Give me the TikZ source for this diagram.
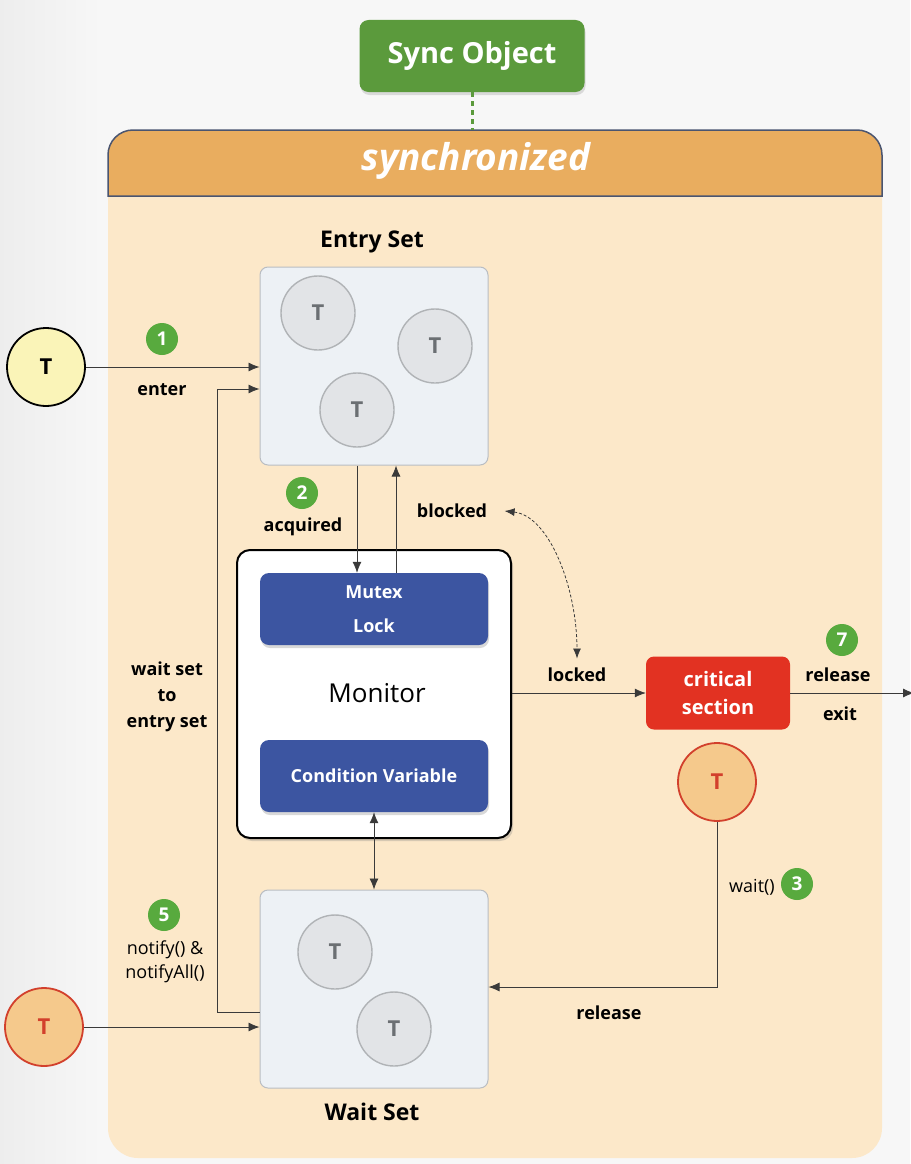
\documentclass[tikz,border=0pt]{standalone}
\usepackage{fontspec}
\setmainfont{Open Sans}
\usetikzlibrary{arrows.meta,positioning,shadows}

\definecolor{syncgreen}{HTML}{5B9A3C}
\definecolor{hdrorange}{HTML}{E9AD5F}
\definecolor{framedark}{HTML}{4A5570}
\definecolor{bodypeach}{HTML}{FCE8C9}
\definecolor{setfill}{HTML}{EDF1F5}
\definecolor{setborder}{HTML}{B9BDC2}
\definecolor{tfill}{HTML}{E2E4E7}
\definecolor{tborder}{HTML}{B0B3B6}
\definecolor{ttext}{HTML}{6B6F73}
\definecolor{tyellow}{HTML}{FAF4B8}
\definecolor{torange}{HTML}{F5C98C}
\definecolor{tred}{HTML}{D2402C}
\definecolor{lockblue}{HTML}{3C55A1}
\definecolor{critred}{HTML}{E23222}
\definecolor{badgegreen}{HTML}{58AA3E}
\definecolor{linegray}{HTML}{3A3A3A}

\tikzset{
  thread/.style={circle, draw=tborder, line width=1.4pt, fill=tfill, minimum size=74pt,
    inner sep=0pt, text=ttext, font=\bfseries\fontsize{22}{22}\selectfont},
  outthread/.style={thread, draw=black, line width=1.8pt, fill=tyellow, text=black, minimum size=78pt},
  redthread/.style={thread, draw=tred, line width=1.8pt, fill=torange, text=tred, minimum size=78pt},
  setbox/.style={draw=setborder, line width=1pt, fill=setfill, rounded corners=8pt,
    minimum width=228pt, minimum height=198pt},
  bluebox/.style={fill=lockblue, rounded corners=9pt, minimum width=228pt, minimum height=72pt,
    text=white, align=center, font=\bfseries\fontsize{18}{34}\selectfont,
    drop shadow={opacity=0.3, shadow xshift=1pt, shadow yshift=-3pt}},
  badge/.style={circle, fill=badgegreen, text=white, minimum size=32pt, inner sep=0pt,
    font=\bfseries\fontsize{19}{19}\selectfont},
  lbl/.style={text=black, align=center, font=\bfseries\fontsize{18}{26}\selectfont},
  title/.style={text=black, font=\bfseries\fontsize{23}{23}\selectfont},
  conn/.style={draw=linegray, line width=0.8pt, -{Latex[length=11pt,width=9pt]}},
}

\begin{document}
\begin{tikzpicture}[x=1pt, y=-1pt]
  \useasboundingbox (0,0) rectangle (910,1164);
  % background
  \fill[white!97!black] (0,0) rectangle (910,1164);
  \shade[left color=white!93!black, right color=white!97!black] (0,0) rectangle (105,1164);

  % synchronized frame
  \fill[bodypeach, rounded corners=30pt] (108,150) rectangle (882,1158);
  \path[fill=hdrorange, draw=framedark, line width=1.5pt] (108,196) -- (108,155)
    arc[start angle=180, end angle=270, radius=25] -- (857,130)
    arc[start angle=270, end angle=360, radius=25] -- (882,196) -- cycle;
  \node[text=white, font=\bfseries\itshape\fontsize{37}{37}\selectfont] (syncd) at (476,161) {synchronized};

  \node[fill=syncgreen, rounded corners=9pt, minimum width=225pt, minimum height=72pt,
    text=white, font=\bfseries\fontsize{29}{29}\selectfont,
    drop shadow={opacity=0.25, shadow xshift=1pt, shadow yshift=-3pt}] (sync) at (472,56) {Sync Object};
  \draw[syncgreen, line width=3pt, dash pattern=on 5pt off 4pt] (sync.south) -- (sync.south |- 0,130);

  % entry set
  \node[title] (entrylbl) at (372,242) {Entry Set};
  \node[setbox] (entryset) at (374,366) {};
  \node[thread] (te1) at (318,313) {T};
  \node[thread] (te2) at (435,346) {T};
  \node[thread] (te3) at (357,410) {T};

  % monitor
  \node[draw=black, line width=2pt, fill=white, rounded corners=13pt, minimum width=274pt,
    minimum height=288pt, drop shadow={opacity=0.3, shadow xshift=2pt, shadow yshift=-3pt}] (monitor) at (374,694) {};
  \node[bluebox] (mutex) at (374,609) {Mutex\\Lock};
  \node[font=\fontsize{26}{26}\selectfont] (monlbl) at (377,693) {Monitor};
  \node[bluebox] (condvar) at (374,776) {Condition Variable};

  % wait set
  \node[setbox] (waitset) at (374,989) {};
  \node[thread] (tw1) at (335,952) {T};
  \node[thread] (tw2) at (394,1029) {T};
  \node[title] (waitlbl) at (372,1112) {Wait Set};

  % critical section
  \node[fill=critred, rounded corners=8pt, minimum width=144pt, minimum height=73pt, text=white,
    align=center, font=\bfseries\fontsize{20}{28}\selectfont] (crit) at (718,693) {critical\\section};

  % outside threads
  \node[outthread] (tnew) at (46,367) {T};
  \node[redthread] (tout) at (44,1027) {T};
  \node[redthread] (trun) at (717,782) {T};

  % labels
  \node[badge] (b1) at (162,339) {1};
  \node[lbl] (enterlbl) at (162,390) {enter};
  \node[badge] (b2) at (302,493) {2};
  \node[lbl] (acqlbl) at (303,527) {acquired};
  \node[lbl] (blocklbl) at (452,511) {blocked};
  \node[lbl] (locklbl) at (577,675) {locked};
  \node[badge] (b7) at (842,640) {7};
  \node[lbl] (rellbl) at (838,675) {release};
  \node[lbl] (exitlbl) at (840,714) {exit};
  \node[lbl, font=\fontsize{18}{26}\selectfont] (waitlbl2) at (752,887) {wait()};
  \node[badge] (b3) at (797,884) {3};
  \node[lbl] (rel2lbl) at (609,1013) {release};
  \node[lbl] (wtoe) at (167,697) {wait set\\to\\entry set};
  \node[badge] (b5) at (164,915) {5};
  \node[lbl, font=\fontsize{18}{24}\selectfont] (notilbl) at (165,962) {notify() \&\\notifyAll()};

  % connectors
  \draw[conn] (tnew) -- (tnew -| entryset.west);
  \draw[conn] ([yshift=-23pt]waitset.west) -- ++(-42,0) |- ([yshift=-23pt]entryset.west);
  \draw[conn] ([xshift=-17pt]entryset.south) -- ([xshift=-17pt]mutex.north);
  \draw[conn] ([xshift=22pt]mutex.north) -- ([xshift=22pt]entryset.south);
  \draw[draw=linegray, line width=0.8pt, {Latex[length=11pt,width=9pt]}-{Latex[length=11pt,width=9pt]}]
    (condvar.south) -- (waitset.north);
  \draw[conn] (tout) -- (tout -| waitset.west);
  \draw[conn] (monitor.east |- crit) -- (crit.west);
  \coordinate (offpage) at (914,693);
  \draw[conn] (crit.east) -- (offpage);
  \draw[conn] (trun.south) |- ([yshift=2pt]waitset.east);
  \draw[draw=linegray, line width=0.8pt, dash pattern=on 3pt off 2pt,
    {Latex[length=10pt,width=8pt]}-{Latex[length=10pt,width=8pt]}]
    ([xshift=14pt]blocklbl.east) .. controls +(45,5) and +(0,-70) .. ([yshift=6pt]locklbl.north);
\end{tikzpicture}
\end{document}
